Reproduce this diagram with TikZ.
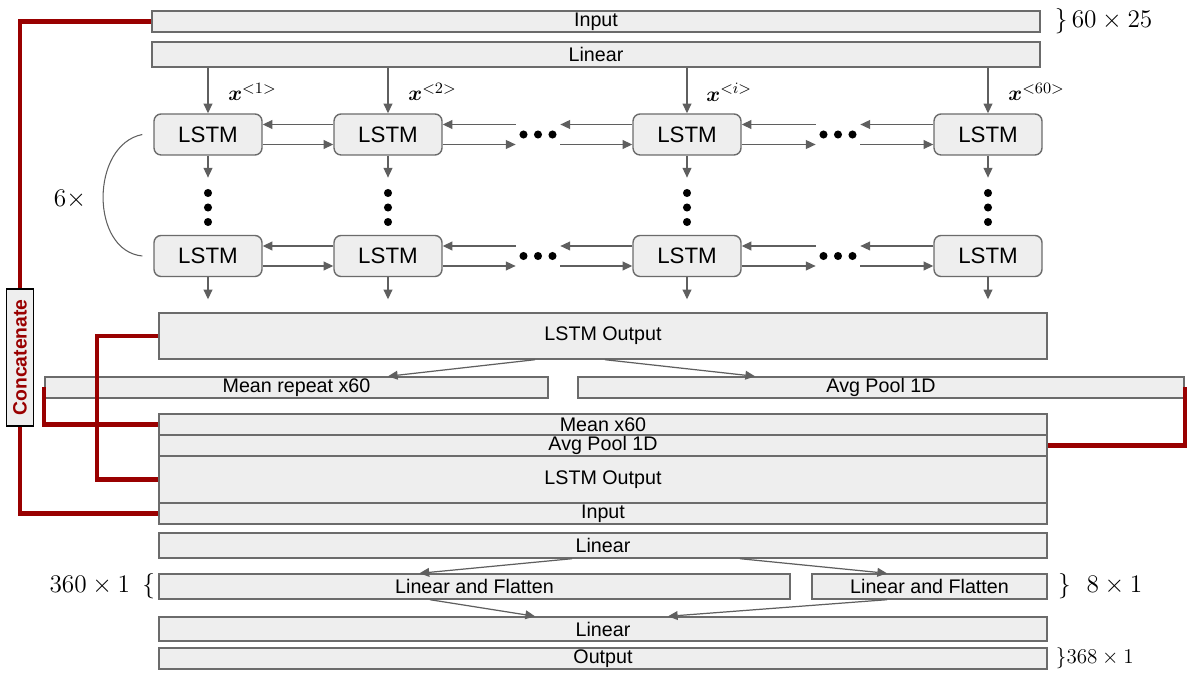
\documentclass[tikz,border=0pt]{standalone}
\usepackage{amsmath}
\usepackage{fontspec}
\newfontfamily\arialfont{Liberation Sans}
\usetikzlibrary{arrows.meta}
\definecolor{boxfill}{HTML}{EEEEEE}
\definecolor{boxline}{HTML}{6B6B6B}
\definecolor{arrowgray}{HTML}{5F5F5F}
\definecolor{catred}{HTML}{990000}

\begin{document}
\begin{tikzpicture}[x=0.02cm, y=-0.02cm,
          >={Triangle[length=5.5pt,width=5pt]},
          layer/.style={rectangle, draw=boxline, fill=boxfill, line width=0.8pt,
            inner sep=0pt, minimum width=17.76cm, font=\arialfont\fontsize{11.2}{12}\selectfont},
          lstmcell/.style={rectangle, rounded corners=4pt, draw=boxline, fill=boxfill,
            line width=0.8pt, minimum width=2.16cm, minimum height=0.82cm,
            font=\arialfont\fontsize{12.7}{14}\selectfont},
          hdots/.style={inner sep=0pt, minimum width=0.88cm, minimum height=0.82cm},
          vdots/.style={inner sep=0pt, minimum width=0.2cm, minimum height=1.18cm},
          flow/.style={->, draw=arrowgray, line width=0.7pt},
          catlink/.style={draw=catred, line width=2.3pt},
          concat/.style={rectangle, rotate=90, draw=black, fill=boxfill, line width=0.6pt,
            text=catred, inner sep=0pt, minimum width=2.74cm, minimum height=0.54cm,
            font=\arialfont\bfseries\fontsize{11}{12}\selectfont},
          xlab/.style={anchor=west, inner sep=0pt, font=\fontsize{12.7}{14}\selectfont},
          dimlab/.style={inner sep=0pt, font=\fontsize{15.7}{17}\selectfont}]

        \useasboundingbox (0,0) rectangle (1187,675);

        % encoder input
        \node[layer, minimum height=0.42cm] (input)  at (596,21.5) {Input};
        \node[layer, minimum height=0.5cm]  (linin)  at (596,54.5) {Linear};
        \node[dimlab, anchor=west] (dimin) at ([xshift=0.28cm]input.east) {$\}\,60\times 25$};

        % stacked LSTM cells
        \node[lstmcell] (c11) at (208,134.5) {LSTM};
        \node[lstmcell] (c12) at (388,134.5) {LSTM};
        \node[lstmcell] (c13) at (687,134.5) {LSTM};
        \node[lstmcell] (c14) at (988,134.5) {LSTM};

        \node[lstmcell] (c21) at (208,256) {LSTM};
        \node[lstmcell] (c22) at (388,256) {LSTM};
        \node[lstmcell] (c23) at (687,256) {LSTM};
        \node[lstmcell] (c24) at (988,256) {LSTM};

        \node[hdots] (h11) at (538,134.5) {};
        \node[hdots] (h12) at (838,134.5) {};
        \node[hdots] (h21) at (538,256) {};
        \node[hdots] (h22) at (838,256) {};

        \node[vdots] (v1) at (208,207.5) {};
        \node[vdots] (v2) at (388,207.5) {};
        \node[vdots] (v3) at (687,207.5) {};
        \node[vdots] (v4) at (988,207.5) {};

        \foreach \d in {h11,h12,h21,h22}
          \fill ([xshift=-0.29cm]\d) circle (2.3pt) (\d) circle (2.3pt) ([xshift=0.29cm]\d) circle (2.3pt);
        \foreach \d in {v1,v2,v3,v4}
          \fill ([yshift=0.29cm]\d) circle (2.3pt) (\d) circle (2.3pt) ([yshift=-0.29cm]\d) circle (2.3pt);

        \node[xlab] (x1) at (228,92) {$\boldsymbol{x}^{<1>}$};
        \node[xlab] (x2) at (408,92) {$\boldsymbol{x}^{<2>}$};
        \node[xlab] (xi) at (706,92) {$\boldsymbol{x}^{<i>}$};
        \node[xlab] (x60) at (1008,92) {$\boldsymbol{x}^{<60>}$};

        \foreach \a/\b in {c11/c12, c12/h11, h11/c13, c13/h12, h12/c14,
                           c21/c22, c22/h21, h21/c23, c23/h22, h22/c24} {
          \draw[flow] ([yshift=-0.2cm]\a.east) -- ([yshift=-0.2cm]\b.west);
          \draw[flow] ([yshift=0.2cm]\b.west)  -- ([yshift=0.2cm]\a.east);
        }

        \node[layer, minimum height=0.92cm] (lstmout) at (603,336) {LSTM Output};

        \foreach \c in {1,...,4} {
          \draw[flow] (c1\c |- linin.south) -- (c1\c);
          \draw[flow] (c1\c) -- (v\c);
          \draw[flow, shorten >=0.26cm] (c2\c) -- (c2\c |- lstmout.north);
        }

        \draw[draw=arrowgray, line width=0.6pt] ([xshift=-0.22cm]c11.west)
          .. controls (90,145) and (90,251) .. ([xshift=-0.22cm]c21.west);
        \node[font=\fontsize{14}{15}\selectfont] (reps) at (70,199) {$6\times$};

        % pooling branches
        \node[layer, minimum width=10.06cm, minimum height=0.42cm] (meanrep) at (296.5,387.5) {Mean repeat x60};
        \node[layer, minimum width=12.12cm, minimum height=0.42cm] (avgpool) at (881,387.5) {Avg Pool 1D};

        \draw[flow] ([xshift=-1.36cm]lstmout.south) -- ([xshift=1.83cm]meanrep.north);
        \draw[flow] ([xshift=0.04cm]lstmout.south)  -- ([xshift=-2.52cm]avgpool.north);

        % concatenated block
        \node[layer, minimum height=0.42cm] (catmean) at (603,424.5) {Mean x60};
        \node[layer, minimum height=0.42cm] (catavg)  at (603,445.5) {Avg Pool 1D};
        \node[layer, minimum height=0.94cm] (catlstm) at (603,479.5) {LSTM Output};
        \node[layer, minimum height=0.42cm] (catin)   at (603,513.5) {Input};

        \node[concat] (concat) at (20,357.5) {Concatenate};

        \coordinate (bend) at (97,336);
        \draw[catlink] (input.west) -| (concat.east);
        \draw[catlink] (concat.west) |- (catin.west);
        \draw[catlink] (lstmout.west) -- (bend) |- (catlstm.west);
        \draw[catlink] (meanrep.west) |- (catmean.west);
        \draw[catlink] (avgpool.east) |- (catavg.east);

        % head
        \node[layer, minimum height=0.5cm] (linmid) at (603,545.5) {Linear};
        \node[layer, minimum width=12.62cm, minimum height=0.5cm] (flatl) at (474.5,586.5) {Linear and Flatten};
        \node[layer, minimum width=4.7cm, minimum height=0.5cm]   (flatr) at (929.5,586.5) {Linear and Flatten};
        \node[layer, minimum height=0.48cm] (linout) at (603,629) {Linear};
        \node[layer, minimum height=0.42cm] (output) at (603,658.5) {Output};

        \draw[flow] ([xshift=-0.62cm]linmid.south) -- ([xshift=-1.1cm]flatl.north);
        \draw[flow] ([xshift=2.74cm]linmid.south)  -- ([xshift=-0.85cm]flatr.north);
        \draw[flow] ([xshift=-0.89cm]flatl.south)  -- ([xshift=-1.36cm]linout.north);
        \draw[flow] ([xshift=-0.85cm]flatr.south)  -- ([xshift=1.3cm]linout.north);

        \node[dimlab, anchor=east] (dimflatl) at ([xshift=-0.06cm]flatl.west) {$360\times1\hspace{7pt}\{$};
        \node[dimlab, anchor=west] (dimflatr) at ([xshift=0.2cm]flatr.east) {$\}\hspace{9pt}8\times1$};
        \node[dimlab, anchor=west, font=\fontsize{12}{13}\selectfont] (dimout) at ([xshift=0.16cm]output.east) {$\}368\times1$};

      \end{tikzpicture}
\end{document}
